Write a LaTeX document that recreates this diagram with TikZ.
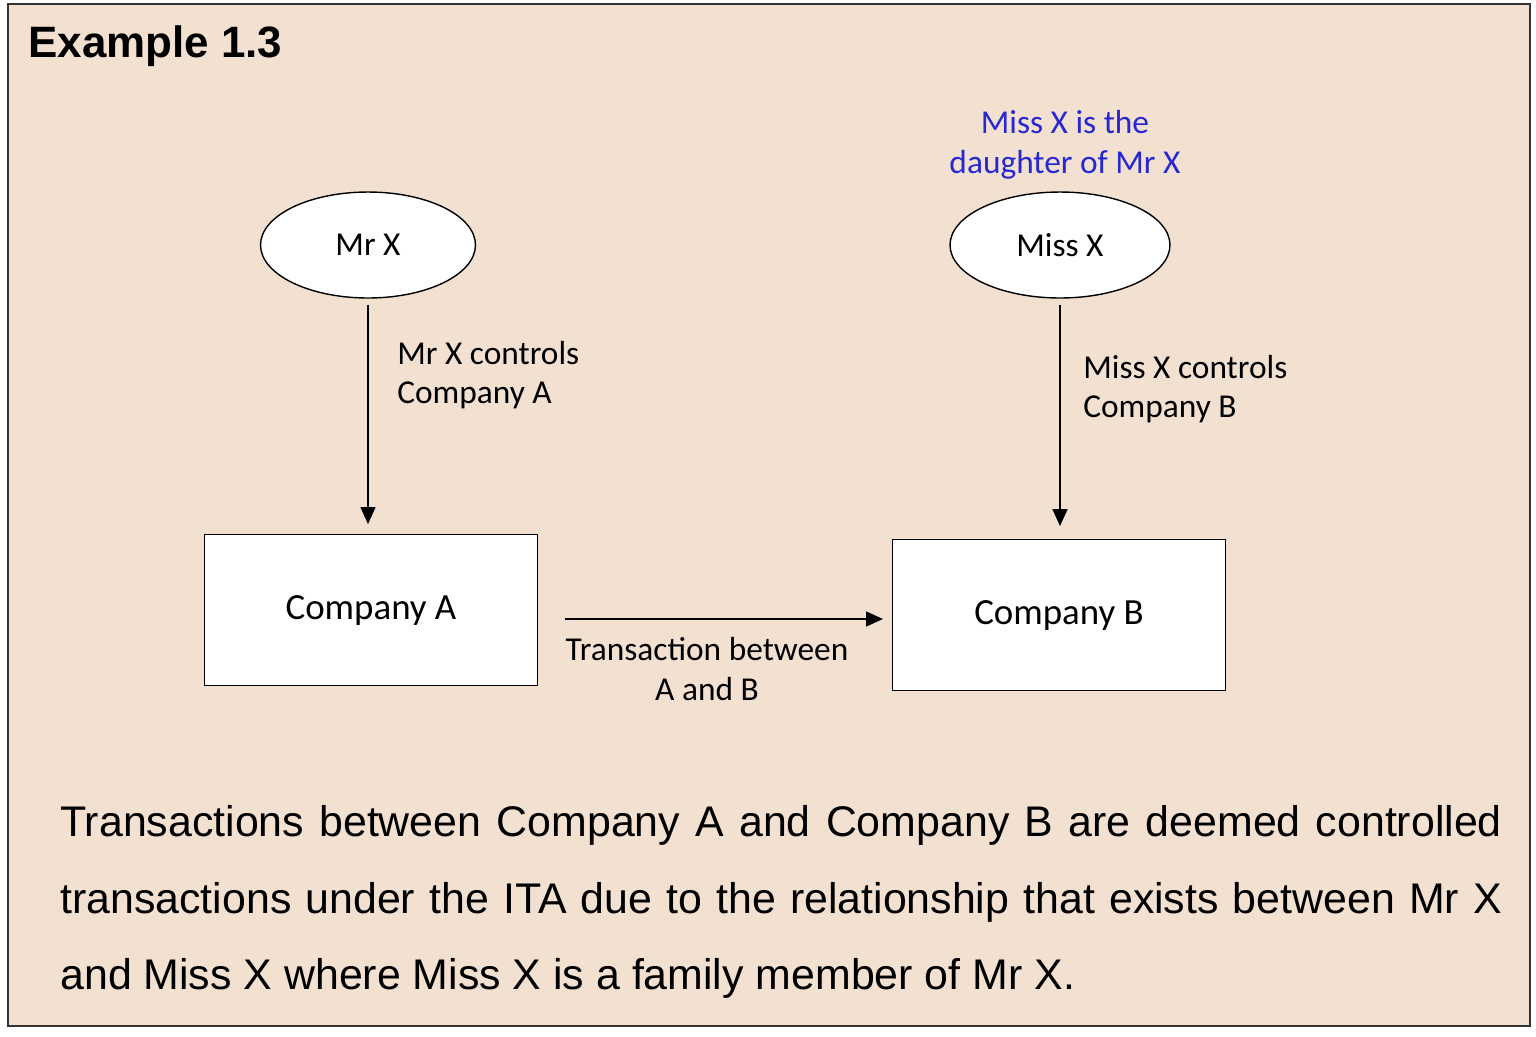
\documentclass[tikz,border=0pt]{standalone}
\usepackage{fontspec}
\setmainfont{Liberation Sans}
\newfontfamily\calib{Carlito}
\usetikzlibrary{shapes.geometric,positioning,arrows.meta}
\definecolor{bgpink}{RGB}{242,224,209}
\definecolor{noteblue}{RGB}{40,40,210}
\newcommand{\nohyph}{\hyphenpenalty=10000\exhyphenpenalty=10000\relax}
\tikzset{>={Triangle[length=0.34cm,width=0.3cm]}}
\tikzset{person/.style={shape=ellipse, draw, fill=white, thick, font=\calib\fontsize{19}{22}\selectfont}}
\tikzset{firm/.style={shape=rectangle, draw, fill=white, thick, minimum width=6.66cm, minimum height=3.01cm, font=\calib\fontsize{21}{24}\selectfont}}
\tikzset{lbl/.style={font=\calib\fontsize{19}{22.5}\selectfont, inner sep=0pt}}
\begin{document}
\begin{tikzpicture}[x=0.02cm, y=-0.02cm]
    \useasboundingbox (0,0) rectangle (1536,1036);
    \path[fill=bgpink, draw=black!80, thick] (8,4) rectangle (1530,1026);
    \node[anchor=west, inner sep=0pt, font=\bfseries\fontsize{25}{30}\selectfont] (title) at (28,46) {Example 1.3};
    \node[person, minimum width=4.3cm, minimum height=2.12cm] (mrx) at (368,245) {Mr X};
    \node[person, minimum width=4.4cm, minimum height=2.12cm] (missx) at (1060,245) {Miss X};
    \node[firm] (coa) at (371,610) {\raisebox{-0.2cm}{Company A}};
    \node[firm] (cob) at (1059,615) {\raisebox{-0.2cm}{Company B}};
    \node[lbl, text=noteblue, align=center] (note) at (1065,145) {Miss X is the\\daughter of Mr X};
    \coordinate (ta) at (565,619);
    \coordinate (tb) at (883,619);
    \draw[->, thick] ([yshift=-0.12cm]mrx.south) -- ([yshift=0.2cm]coa.north -| mrx.south);
    \draw[->, thick] ([yshift=-0.12cm]missx.south) -- ([yshift=0.26cm]cob.north -| missx.south);
    \draw[->, thick] (ta) -- (tb);
    \node[lbl, anchor=west, align=left] (ctla) at (397,375) {Mr X controls\\Company A};
    \node[lbl, anchor=west, align=left] (ctlb) at (1083,389) {Miss X controls\\Company B};
    \node[lbl, align=center] (trans) at (707,669) {Transaction between\\A and B};
    \node[anchor=north west, inner sep=0pt, text width=28.84cm, align=justify,
      font=\fontsize{24.4}{43.6}\selectfont] (summary) at (60,805)
      {\nohyph Transactions between Company A and Company B are deemed controlled transactions under the ITA due to the relationship that exists between Mr X and Miss X where Miss X is a family member of Mr X.};
  \end{tikzpicture}
\end{document}
